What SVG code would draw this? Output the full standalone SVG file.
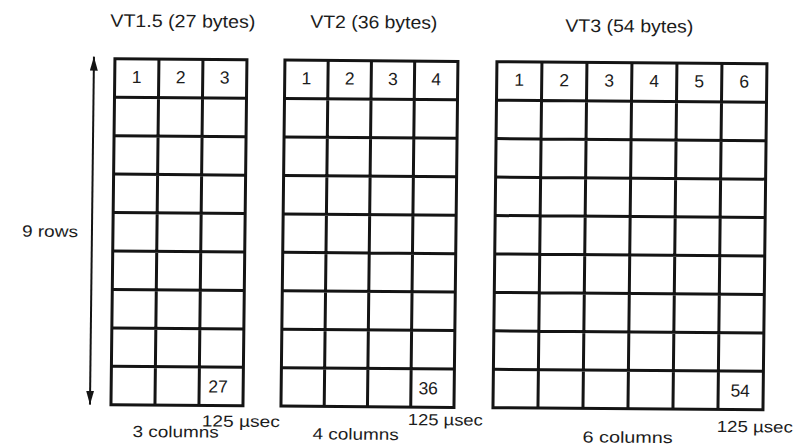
<svg xmlns="http://www.w3.org/2000/svg" width="800" height="447" viewBox="0 0 800 447">
<defs>
<style>
.grid{fill:none;stroke:#141414;stroke-width:3;stroke-linejoin:miter}
.t{font-family:"Liberation Sans",Arial,sans-serif;fill:#1c1c1c}
.title{font-size:18px}
.num{font-size:17.5px;text-anchor:middle}
.lbl{font-size:16px}
.arr{stroke:#141414;stroke-width:2;fill:none}
</style>
<marker id="ah" viewBox="0 0 14 8" refX="14" refY="4" markerWidth="14" markerHeight="8" markerUnits="userSpaceOnUse" orient="auto-start-reverse">
<path d="M0,0 L14,4 L0,8 Z" fill="#141414"/>
</marker>
</defs>
<rect x="0" y="0" width="800" height="447" fill="#ffffff"/>
<g transform="matrix(1,0.0077,-0.0115,1,2.645,-3.08)">
<g id="vt15">
<text class="t title" x="108" y="29" textLength="145" lengthAdjust="spacingAndGlyphs">VT1.5 (27 bytes)</text>
<rect class="grid" x="113" y="61" width="132" height="346"/>
<path class="grid" d="M157,61V407M201,61V407M113,99.44H245M113,137.89H245M113,176.33H245M113,214.78H245M113,253.22H245M113,291.67H245M113,330.11H245M113,368.56H245"/>
<text class="t num" x="135" y="85">1</text>
<text class="t num" x="179" y="85">2</text>
<text class="t num" x="223" y="85">3</text>
<text class="t num" x="220" y="394">27</text>
<text class="t lbl" x="204" y="428" textLength="78" lengthAdjust="spacingAndGlyphs">125 µsec</text>
<text class="t lbl" x="135" y="439" textLength="86" lengthAdjust="spacingAndGlyphs">3 columns</text>
</g>
<g id="vt2">
<text class="t title" x="308" y="28.5" textLength="127" lengthAdjust="spacingAndGlyphs">VT2 (36 bytes)</text>
<rect class="grid" x="283" y="61" width="173" height="346"/>
<path class="grid" d="M326.25,61V407M369.5,61V407M412.75,61V407M283,99.44H456M283,137.89H456M283,176.33H456M283,214.78H456M283,253.22H456M283,291.67H456M283,330.11H456M283,368.56H456"/>
<text class="t num" x="304.6" y="85">1</text>
<text class="t num" x="347.9" y="85">2</text>
<text class="t num" x="391.1" y="85">3</text>
<text class="t num" x="434.4" y="85">4</text>
<text class="t num" x="430" y="394">36</text>
<text class="t lbl" x="410" y="425" textLength="75" lengthAdjust="spacingAndGlyphs">125 µsec</text>
<text class="t lbl" x="315" y="440" textLength="86" lengthAdjust="spacingAndGlyphs">4 columns</text>
</g>
<g id="vt3">
<text class="t title" x="563" y="30.5" textLength="128" lengthAdjust="spacingAndGlyphs">VT3 (54 bytes)</text>
<rect class="grid" x="495" y="61" width="270" height="346"/>
<path class="grid" d="M540,61V407M585,61V407M630,61V407M675,61V407M720,61V407M495,99.44H765M495,137.89H765M495,176.33H765M495,214.78H765M495,253.22H765M495,291.67H765M495,330.11H765M495,368.56H765"/>
<text class="t num" x="517.5" y="85">1</text>
<text class="t num" x="562.5" y="85">2</text>
<text class="t num" x="607.5" y="85">3</text>
<text class="t num" x="652.5" y="85">4</text>
<text class="t num" x="697.5" y="85">5</text>
<text class="t num" x="742.5" y="85">6</text>
<text class="t num" x="742" y="394">54</text>
<text class="t lbl" x="719" y="429.5" textLength="76" lengthAdjust="spacingAndGlyphs">125 µsec</text>
<text class="t lbl" x="585" y="441" textLength="90" lengthAdjust="spacingAndGlyphs">6 columns</text>
</g>
<g id="connectors">
<line class="arr" x1="92" y1="59" x2="92" y2="407" marker-start="url(#ah)" marker-end="url(#ah)"/>
</g>
<g id="rows-label">
<text class="t lbl" x="22" y="239.5" textLength="56" lengthAdjust="spacingAndGlyphs">9 rows</text>
</g>
</g>
</svg>
